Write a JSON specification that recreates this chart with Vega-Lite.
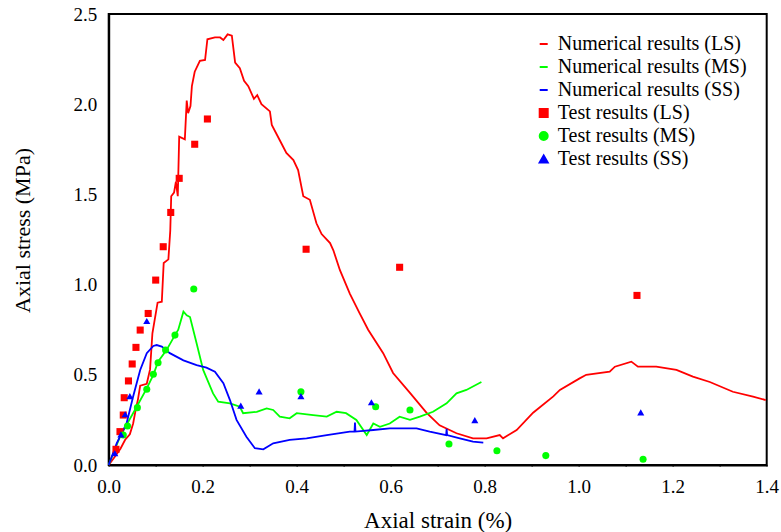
{
  "$schema": "https://vega.github.io/schema/vega-lite/v6.json",
  "width": 658,
  "height": 451,
  "autosize": "none",
  "padding": {"left": 108.7, "top": 14, "right": 14.3, "bottom": 67},
  "background": "white",
  "config": {
    "font": "Liberation Serif",
    "view": {"stroke": "black", "strokeWidth": 2},
    "axis": {
      "grid": false,
      "labelFont": "Liberation Serif",
      "titleFont": "Liberation Serif",
      "labelColor": "black",
      "titleColor": "black"
    },
    "legend": {
      "labelFont": "Liberation Serif",
      "labelFontSize": 20,
      "labelColor": "black",
      "labelLimit": 400,
      "symbolOpacity": 1
    }
  },
  "datasets": {
    "num": [
      {"s": "Numerical results (LS)", "x": 0, "y": 0},
      {"s": "Numerical results (LS)", "x": 0.013, "y": 0.046},
      {"s": "Numerical results (LS)", "x": 0.025, "y": 0.09},
      {"s": "Numerical results (LS)", "x": 0.035, "y": 0.14},
      {"s": "Numerical results (LS)", "x": 0.045, "y": 0.17},
      {"s": "Numerical results (LS)", "x": 0.052, "y": 0.23},
      {"s": "Numerical results (LS)", "x": 0.057, "y": 0.30},
      {"s": "Numerical results (LS)", "x": 0.062, "y": 0.36},
      {"s": "Numerical results (LS)", "x": 0.067, "y": 0.44},
      {"s": "Numerical results (LS)", "x": 0.081, "y": 0.45},
      {"s": "Numerical results (LS)", "x": 0.088, "y": 0.53},
      {"s": "Numerical results (LS)", "x": 0.093, "y": 0.73},
      {"s": "Numerical results (LS)", "x": 0.104, "y": 0.90},
      {"s": "Numerical results (LS)", "x": 0.113, "y": 0.905},
      {"s": "Numerical results (LS)", "x": 0.117, "y": 1.12},
      {"s": "Numerical results (LS)", "x": 0.127, "y": 1.14},
      {"s": "Numerical results (LS)", "x": 0.131, "y": 1.30},
      {"s": "Numerical results (LS)", "x": 0.133, "y": 1.49},
      {"s": "Numerical results (LS)", "x": 0.139, "y": 1.51},
      {"s": "Numerical results (LS)", "x": 0.143, "y": 1.57},
      {"s": "Numerical results (LS)", "x": 0.147, "y": 1.49},
      {"s": "Numerical results (LS)", "x": 0.150, "y": 1.82},
      {"s": "Numerical results (LS)", "x": 0.162, "y": 1.805},
      {"s": "Numerical results (LS)", "x": 0.166, "y": 2.02},
      {"s": "Numerical results (LS)", "x": 0.169, "y": 1.95},
      {"s": "Numerical results (LS)", "x": 0.174, "y": 1.99},
      {"s": "Numerical results (LS)", "x": 0.177, "y": 2.10},
      {"s": "Numerical results (LS)", "x": 0.183, "y": 2.18},
      {"s": "Numerical results (LS)", "x": 0.194, "y": 2.24},
      {"s": "Numerical results (LS)", "x": 0.205, "y": 2.245},
      {"s": "Numerical results (LS)", "x": 0.210, "y": 2.36},
      {"s": "Numerical results (LS)", "x": 0.226, "y": 2.37},
      {"s": "Numerical results (LS)", "x": 0.237, "y": 2.37},
      {"s": "Numerical results (LS)", "x": 0.244, "y": 2.356},
      {"s": "Numerical results (LS)", "x": 0.253, "y": 2.387},
      {"s": "Numerical results (LS)", "x": 0.262, "y": 2.38},
      {"s": "Numerical results (LS)", "x": 0.269, "y": 2.23},
      {"s": "Numerical results (LS)", "x": 0.279, "y": 2.20},
      {"s": "Numerical results (LS)", "x": 0.288, "y": 2.13},
      {"s": "Numerical results (LS)", "x": 0.297, "y": 2.10},
      {"s": "Numerical results (LS)", "x": 0.309, "y": 2.03},
      {"s": "Numerical results (LS)", "x": 0.316, "y": 2.05},
      {"s": "Numerical results (LS)", "x": 0.325, "y": 2.00},
      {"s": "Numerical results (LS)", "x": 0.343, "y": 1.96},
      {"s": "Numerical results (LS)", "x": 0.347, "y": 1.885},
      {"s": "Numerical results (LS)", "x": 0.364, "y": 1.80},
      {"s": "Numerical results (LS)", "x": 0.378, "y": 1.73},
      {"s": "Numerical results (LS)", "x": 0.393, "y": 1.69},
      {"s": "Numerical results (LS)", "x": 0.403, "y": 1.635},
      {"s": "Numerical results (LS)", "x": 0.414, "y": 1.49},
      {"s": "Numerical results (LS)", "x": 0.428, "y": 1.47},
      {"s": "Numerical results (LS)", "x": 0.442, "y": 1.34},
      {"s": "Numerical results (LS)", "x": 0.453, "y": 1.28},
      {"s": "Numerical results (LS)", "x": 0.471, "y": 1.23},
      {"s": "Numerical results (LS)", "x": 0.478, "y": 1.19},
      {"s": "Numerical results (LS)", "x": 0.492, "y": 1.08},
      {"s": "Numerical results (LS)", "x": 0.513, "y": 0.95},
      {"s": "Numerical results (LS)", "x": 0.534, "y": 0.84},
      {"s": "Numerical results (LS)", "x": 0.552, "y": 0.75},
      {"s": "Numerical results (LS)", "x": 0.584, "y": 0.62},
      {"s": "Numerical results (LS)", "x": 0.605, "y": 0.51},
      {"s": "Numerical results (LS)", "x": 0.641, "y": 0.40},
      {"s": "Numerical results (LS)", "x": 0.676, "y": 0.29},
      {"s": "Numerical results (LS)", "x": 0.704, "y": 0.22},
      {"s": "Numerical results (LS)", "x": 0.740, "y": 0.176},
      {"s": "Numerical results (LS)", "x": 0.775, "y": 0.148},
      {"s": "Numerical results (LS)", "x": 0.804, "y": 0.148},
      {"s": "Numerical results (LS)", "x": 0.832, "y": 0.166},
      {"s": "Numerical results (LS)", "x": 0.839, "y": 0.148},
      {"s": "Numerical results (LS)", "x": 0.868, "y": 0.194},
      {"s": "Numerical results (LS)", "x": 0.903, "y": 0.29},
      {"s": "Numerical results (LS)", "x": 0.946, "y": 0.38},
      {"s": "Numerical results (LS)", "x": 0.960, "y": 0.416},
      {"s": "Numerical results (LS)", "x": 1.002, "y": 0.48},
      {"s": "Numerical results (LS)", "x": 1.016, "y": 0.50},
      {"s": "Numerical results (LS)", "x": 1.066, "y": 0.517},
      {"s": "Numerical results (LS)", "x": 1.077, "y": 0.545},
      {"s": "Numerical results (LS)", "x": 1.112, "y": 0.573},
      {"s": "Numerical results (LS)", "x": 1.126, "y": 0.545},
      {"s": "Numerical results (LS)", "x": 1.165, "y": 0.545},
      {"s": "Numerical results (LS)", "x": 1.208, "y": 0.527},
      {"s": "Numerical results (LS)", "x": 1.243, "y": 0.49},
      {"s": "Numerical results (LS)", "x": 1.279, "y": 0.46},
      {"s": "Numerical results (LS)", "x": 1.328, "y": 0.406},
      {"s": "Numerical results (LS)", "x": 1.371, "y": 0.379},
      {"s": "Numerical results (LS)", "x": 1.398, "y": 0.36},
      {"s": "Numerical results (MS)", "x": 0, "y": 0},
      {"s": "Numerical results (MS)", "x": 0.024, "y": 0.157},
      {"s": "Numerical results (MS)", "x": 0.059, "y": 0.32},
      {"s": "Numerical results (MS)", "x": 0.081, "y": 0.425},
      {"s": "Numerical results (MS)", "x": 0.095, "y": 0.50},
      {"s": "Numerical results (MS)", "x": 0.105, "y": 0.573},
      {"s": "Numerical results (MS)", "x": 0.123, "y": 0.637},
      {"s": "Numerical results (MS)", "x": 0.141, "y": 0.72},
      {"s": "Numerical results (MS)", "x": 0.148, "y": 0.75},
      {"s": "Numerical results (MS)", "x": 0.159, "y": 0.85},
      {"s": "Numerical results (MS)", "x": 0.166, "y": 0.83},
      {"s": "Numerical results (MS)", "x": 0.173, "y": 0.82},
      {"s": "Numerical results (MS)", "x": 0.187, "y": 0.675},
      {"s": "Numerical results (MS)", "x": 0.201, "y": 0.527},
      {"s": "Numerical results (MS)", "x": 0.222, "y": 0.397},
      {"s": "Numerical results (MS)", "x": 0.233, "y": 0.351},
      {"s": "Numerical results (MS)", "x": 0.258, "y": 0.342},
      {"s": "Numerical results (MS)", "x": 0.279, "y": 0.323},
      {"s": "Numerical results (MS)", "x": 0.286, "y": 0.287},
      {"s": "Numerical results (MS)", "x": 0.315, "y": 0.295},
      {"s": "Numerical results (MS)", "x": 0.336, "y": 0.314},
      {"s": "Numerical results (MS)", "x": 0.350, "y": 0.305},
      {"s": "Numerical results (MS)", "x": 0.364, "y": 0.268},
      {"s": "Numerical results (MS)", "x": 0.385, "y": 0.259},
      {"s": "Numerical results (MS)", "x": 0.400, "y": 0.287},
      {"s": "Numerical results (MS)", "x": 0.435, "y": 0.277},
      {"s": "Numerical results (MS)", "x": 0.464, "y": 0.268},
      {"s": "Numerical results (MS)", "x": 0.485, "y": 0.295},
      {"s": "Numerical results (MS)", "x": 0.505, "y": 0.287},
      {"s": "Numerical results (MS)", "x": 0.527, "y": 0.25},
      {"s": "Numerical results (MS)", "x": 0.549, "y": 0.166},
      {"s": "Numerical results (MS)", "x": 0.563, "y": 0.23},
      {"s": "Numerical results (MS)", "x": 0.577, "y": 0.212},
      {"s": "Numerical results (MS)", "x": 0.598, "y": 0.23},
      {"s": "Numerical results (MS)", "x": 0.619, "y": 0.268},
      {"s": "Numerical results (MS)", "x": 0.641, "y": 0.25},
      {"s": "Numerical results (MS)", "x": 0.662, "y": 0.268},
      {"s": "Numerical results (MS)", "x": 0.690, "y": 0.295},
      {"s": "Numerical results (MS)", "x": 0.719, "y": 0.342},
      {"s": "Numerical results (MS)", "x": 0.740, "y": 0.397},
      {"s": "Numerical results (MS)", "x": 0.761, "y": 0.416},
      {"s": "Numerical results (MS)", "x": 0.793, "y": 0.46},
      {"s": "Numerical results (SS)", "x": 0, "y": 0},
      {"s": "Numerical results (SS)", "x": 0.017, "y": 0.12},
      {"s": "Numerical results (SS)", "x": 0.038, "y": 0.23},
      {"s": "Numerical results (SS)", "x": 0.052, "y": 0.38},
      {"s": "Numerical results (SS)", "x": 0.067, "y": 0.527},
      {"s": "Numerical results (SS)", "x": 0.081, "y": 0.62},
      {"s": "Numerical results (SS)", "x": 0.095, "y": 0.66},
      {"s": "Numerical results (SS)", "x": 0.102, "y": 0.665},
      {"s": "Numerical results (SS)", "x": 0.113, "y": 0.656},
      {"s": "Numerical results (SS)", "x": 0.130, "y": 0.62},
      {"s": "Numerical results (SS)", "x": 0.159, "y": 0.58},
      {"s": "Numerical results (SS)", "x": 0.187, "y": 0.554},
      {"s": "Numerical results (SS)", "x": 0.208, "y": 0.54},
      {"s": "Numerical results (SS)", "x": 0.226, "y": 0.517},
      {"s": "Numerical results (SS)", "x": 0.244, "y": 0.453},
      {"s": "Numerical results (SS)", "x": 0.258, "y": 0.36},
      {"s": "Numerical results (SS)", "x": 0.272, "y": 0.25},
      {"s": "Numerical results (SS)", "x": 0.293, "y": 0.157},
      {"s": "Numerical results (SS)", "x": 0.311, "y": 0.093},
      {"s": "Numerical results (SS)", "x": 0.329, "y": 0.087},
      {"s": "Numerical results (SS)", "x": 0.350, "y": 0.12},
      {"s": "Numerical results (SS)", "x": 0.385, "y": 0.139},
      {"s": "Numerical results (SS)", "x": 0.421, "y": 0.148},
      {"s": "Numerical results (SS)", "x": 0.464, "y": 0.166},
      {"s": "Numerical results (SS)", "x": 0.513, "y": 0.185},
      {"s": "Numerical results (SS)", "x": 0.523, "y": 0.185},
      {"s": "Numerical results (SS)", "x": 0.524, "y": 0.235},
      {"s": "Numerical results (SS)", "x": 0.525, "y": 0.185},
      {"s": "Numerical results (SS)", "x": 0.563, "y": 0.194},
      {"s": "Numerical results (SS)", "x": 0.598, "y": 0.203},
      {"s": "Numerical results (SS)", "x": 0.655, "y": 0.203},
      {"s": "Numerical results (SS)", "x": 0.683, "y": 0.185},
      {"s": "Numerical results (SS)", "x": 0.718, "y": 0.166},
      {"s": "Numerical results (SS)", "x": 0.719, "y": 0.2},
      {"s": "Numerical results (SS)", "x": 0.720, "y": 0.166},
      {"s": "Numerical results (SS)", "x": 0.747, "y": 0.148},
      {"s": "Numerical results (SS)", "x": 0.775, "y": 0.129},
      {"s": "Numerical results (SS)", "x": 0.797, "y": 0.124}
    ],
    "test": [
      {"s": "Test results (LS)", "x": 0.0155, "y": 0.087},
      {"s": "Test results (LS)", "x": 0.024, "y": 0.185},
      {"s": "Test results (LS)", "x": 0.031, "y": 0.277},
      {"s": "Test results (LS)", "x": 0.033, "y": 0.373},
      {"s": "Test results (LS)", "x": 0.042, "y": 0.466},
      {"s": "Test results (LS)", "x": 0.050, "y": 0.56},
      {"s": "Test results (LS)", "x": 0.058, "y": 0.652},
      {"s": "Test results (LS)", "x": 0.067, "y": 0.748},
      {"s": "Test results (LS)", "x": 0.084, "y": 0.84},
      {"s": "Test results (LS)", "x": 0.100, "y": 1.025},
      {"s": "Test results (LS)", "x": 0.116, "y": 1.21},
      {"s": "Test results (LS)", "x": 0.132, "y": 1.40},
      {"s": "Test results (LS)", "x": 0.150, "y": 1.589},
      {"s": "Test results (LS)", "x": 0.183, "y": 1.778},
      {"s": "Test results (LS)", "x": 0.210, "y": 1.918},
      {"s": "Test results (LS)", "x": 0.420, "y": 1.196},
      {"s": "Test results (LS)", "x": 0.619, "y": 1.096},
      {"s": "Test results (LS)", "x": 1.124, "y": 0.94},
      {"s": "Test results (MS)", "x": 0.031, "y": 0.166},
      {"s": "Test results (MS)", "x": 0.040, "y": 0.216},
      {"s": "Test results (MS)", "x": 0.061, "y": 0.318},
      {"s": "Test results (MS)", "x": 0.081, "y": 0.42},
      {"s": "Test results (MS)", "x": 0.095, "y": 0.503},
      {"s": "Test results (MS)", "x": 0.105, "y": 0.567},
      {"s": "Test results (MS)", "x": 0.121, "y": 0.637},
      {"s": "Test results (MS)", "x": 0.141, "y": 0.72},
      {"s": "Test results (MS)", "x": 0.181, "y": 0.976},
      {"s": "Test results (MS)", "x": 0.409, "y": 0.406},
      {"s": "Test results (MS)", "x": 0.568, "y": 0.323},
      {"s": "Test results (MS)", "x": 0.641, "y": 0.305},
      {"s": "Test results (MS)", "x": 0.724, "y": 0.116},
      {"s": "Test results (MS)", "x": 0.826, "y": 0.079},
      {"s": "Test results (MS)", "x": 0.930, "y": 0.052},
      {"s": "Test results (MS)", "x": 1.137, "y": 0.032},
      {"s": "Test results (SS)", "x": 0.013, "y": 0.065},
      {"s": "Test results (SS)", "x": 0.026, "y": 0.17},
      {"s": "Test results (SS)", "x": 0.035, "y": 0.281},
      {"s": "Test results (SS)", "x": 0.045, "y": 0.382},
      {"s": "Test results (SS)", "x": 0.081, "y": 0.798},
      {"s": "Test results (SS)", "x": 0.281, "y": 0.329},
      {"s": "Test results (SS)", "x": 0.320, "y": 0.408},
      {"s": "Test results (SS)", "x": 0.409, "y": 0.382},
      {"s": "Test results (SS)", "x": 0.559, "y": 0.348},
      {"s": "Test results (SS)", "x": 0.779, "y": 0.249},
      {"s": "Test results (SS)", "x": 1.132, "y": 0.292}
    ]
  },
  "layer": [
    {
      "data": {"name": "num"},
      "mark": {"type": "line", "strokeWidth": 1.8},
      "encoding": {
        "x": {
          "field": "x", "type": "quantitative",
          "scale": {"domain": [0, 1.4], "nice": false, "zero": false},
          "axis": {
            "title": "Axial strain (%)",
            "titleFont": "Liberation Serif",
            "titleFontSize": 23,
            "titleFontWeight": "normal",
            "titleBaseline": "middle",
            "titleX": 329,
            "titleY": 55,
            "grid": false,
            "domainColor": "black",
            "domainWidth": 2,
            "ticks": true,
            "tickColor": "black",
            "tickWidth": 1.6,
            "tickSize": 1,
            "labelFont": "Liberation Serif",
            "labelFontSize": 19,
            "labelPadding": 11,
            "labelFlush": false,
            "labelOverlap": false,
            "values": [0, 0.1, 0.2, 0.3, 0.4, 0.5, 0.6, 0.7, 0.8, 0.9, 1.0, 1.1, 1.2, 1.3, 1.4],
            "labelExpr": "round(datum.value*10) % 2 === 0 ? format(datum.value, '.1f') : ''",
            "encode": {"ticks": {"y2": {"condition": {"test": "round(datum.value*10) % 2 === 0", "value": -8}, "value": -4.5}}}
          }
        },
        "y": {
          "field": "y", "type": "quantitative",
          "scale": {"domain": [0, 2.5], "nice": false, "zero": false},
          "axis": {
            "title": "Axial stress (MPa)",
            "titleFont": "Liberation Serif",
            "titleFontSize": 22,
            "titleFontWeight": "normal",
            "titleBaseline": "middle",
            "titleX": -86,
            "titleY": 216,
            "grid": false,
            "domainColor": "black",
            "domainWidth": 2,
            "ticks": true,
            "tickColor": "black",
            "tickWidth": 1.6,
            "tickSize": 1,
            "labelFont": "Liberation Serif",
            "labelFontSize": 19,
            "labelPadding": 11,
            "labelFlush": false,
            "labelOverlap": false,
            "values": [0, 0.25, 0.5, 0.75, 1.0, 1.25, 1.5, 1.75, 2.0, 2.25, 2.5],
            "labelExpr": "round(datum.value*4) % 2 === 0 ? format(datum.value, '.1f') : ''",
            "encode": {"ticks": {"x2": {"condition": {"test": "round(datum.value*4) % 2 === 0", "value": 8}, "value": 4.5}}}
          }
        },
        "color": {
          "field": "s", "type": "nominal",
          "scale": {
            "domain": ["Numerical results (LS)", "Numerical results (MS)", "Numerical results (SS)", "Test results (LS)", "Test results (MS)", "Test results (SS)"],
            "range": ["#ff0000", "#00ff00", "#0000ff", "#ff0000", "#00ff00", "#0000ff"]
          },
          "legend": {"title": null, "orient": "top-right", "offset": 20, "symbolSize": 64, "symbolStrokeWidth": 2, "rowPadding": 3}
        }
      }
    },
    {
      "data": {"name": "test"},
      "mark": {"type": "point", "filled": true, "opacity": 1, "size": 50, "strokeWidth": 0},
      "encoding": {
        "x": {"field": "x", "type": "quantitative"},
        "y": {"field": "y", "type": "quantitative"},
        "color": {
          "field": "s", "type": "nominal",
          "legend": {"title": null, "orient": "top-right", "offset": 20, "symbolSize": 64, "symbolStrokeWidth": 2, "rowPadding": 3}
        },
        "shape": {
          "field": "s", "type": "nominal",
          "scale": {
            "domain": ["Numerical results (LS)", "Numerical results (MS)", "Numerical results (SS)", "Test results (LS)", "Test results (MS)", "Test results (SS)"],
            "range": ["stroke", "stroke", "stroke", "square", "circle", "triangle-up"]
          },
          "legend": {"title": null, "orient": "top-right", "offset": 20, "symbolSize": 64, "symbolStrokeWidth": 2, "rowPadding": 3}
        }
      }
    }
  ]
}
